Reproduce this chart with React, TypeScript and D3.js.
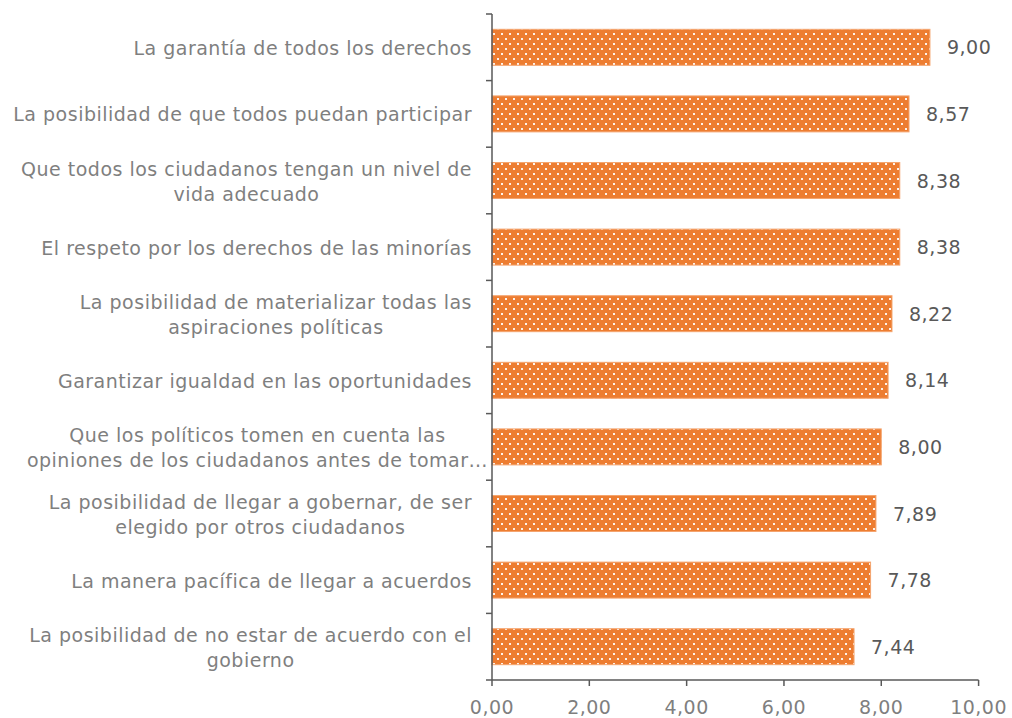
import React, { useEffect, useRef } from "react";
import * as d3 from "d3";

const categories: string[] = [
  "La garantía de todos los derechos",
  "La posibilidad de que todos puedan participar",
  "Que todos los ciudadanos tengan un nivel de\nvida adecuado",
  "El respeto por los derechos de las minorías",
  "La posibilidad de materializar todas las\naspiraciones políticas",
  "Garantizar igualdad en las oportunidades",
  "Que los políticos tomen en cuenta las\nopiniones de los ciudadanos antes de tomar…",
  "La posibilidad de llegar a gobernar, de ser\nelegido por otros ciudadanos",
  "La manera pacífica de llegar a acuerdos",
  "La posibilidad de no estar de acuerdo con el\ngobierno",
];
const values: number[] = [9.0, 8.57, 8.38, 8.38, 8.22, 8.14, 8.0, 7.89, 7.78, 7.44];
const xTicks: number[] = [0, 2, 4, 6, 8, 10];

const W = 1012;
const H = 718;
const FONT = "'DejaVu Sans', Verdana, sans-serif";
const FS = 19;
const LS = 0.5;
const fmt = (v: number) => v.toFixed(2).replace(".", ",");

export default function App() {
  const ref = useRef<SVGSVGElement>(null);

  useEffect(() => {
    const svg = d3.select(ref.current);
    svg.selectAll("*").remove();

    const x = d3.scaleLinear().domain([0, 10]).range([492, 978.6]);
    const y = d3
      .scaleBand<string>()
      .domain(categories)
      .range([14, 680])
      .paddingInner(0.46)
      .paddingOuter(0.23);
    const step = y.step();

    const defs = svg.append("defs");
    const pat = defs
      .append("pattern")
      .attr("id", "dots")
      .attr("patternUnits", "userSpaceOnUse")
      .attr("width", 8)
      .attr("height", 10)
      .attr("x", 492)
      .attr("y", 2);
    pat.append("rect").attr("width", 8).attr("height", 10).attr("fill", "#ED7D31");
    pat.append("rect").attr("x", 1).attr("y", 1).attr("width", 2).attr("height", 2).attr("fill", "#FFFFFF").attr("opacity", 0.9);
    pat.append("rect").attr("x", 5).attr("y", 6).attr("width", 2).attr("height", 2).attr("fill", "#FFFFFF").attr("opacity", 0.9);

    // bars
    svg
      .append("g")
      .selectAll("rect")
      .data(categories)
      .join("rect")
      .attr("x", x(0))
      .attr("y", (d) => y(d)!)
      .attr("width", (d, i) => x(values[i]) - x(0))
      .attr("height", y.bandwidth())
      .attr("fill", "url(#dots)")
      .attr("stroke", "#F4A46E")
      .attr("stroke-width", 1);

    // value labels
    svg
      .append("g")
      .selectAll("text")
      .data(categories)
      .join("text")
      .attr("x", (d, i) => x(values[i]) + 17)
      .attr("y", (d) => y(d)! + y.bandwidth() / 2 + 7)
      .attr("font-family", FONT)
      .attr("font-size", FS)
      .attr("letter-spacing", LS)
      .attr("fill", "#595959")
      .text((d, i) => fmt(values[i]));

    // category labels
    const gl = svg.append("g");
    categories.forEach((c) => {
      const lines = c.split("\n");
      const cy = y(c)! + y.bandwidth() / 2;
      const lh = 25;
      const t = gl
        .append("text")
        .attr("font-family", FONT)
        .attr("font-size", FS)
        .attr("letter-spacing", LS)
        .attr("fill", "#7F7F7F");
      const tspans = lines.map((ln, k) =>
        t
          .append("tspan")
          .attr("y", cy + 7.5 + (k - (lines.length - 1) / 2) * lh)
          .text(ln)
      );
      if (lines.length === 1) {
        t.attr("text-anchor", "end");
        tspans[0].attr("x", 472);
      } else {
        const widths = tspans.map((s) => (s.node() as SVGTextContentElement).getComputedTextLength());
        const maxW = Math.max(...widths);
        const right = lines.some((l) => l.endsWith("…")) ? 488 : 472;
        const cx = right - maxW / 2;
        t.attr("text-anchor", "middle");
        tspans.forEach((s) => s.attr("x", cx));
      }
    });

    // axes
    const axisColor = "#595959";
    const ga = svg.append("g").attr("stroke", axisColor).attr("stroke-width", 1.5);
    ga.append("line").attr("x1", x(0)).attr("x2", x(0)).attr("y1", 14).attr("y2", 680);
    ga.append("line").attr("x1", x(0)).attr("x2", x(10)).attr("y1", 680).attr("y2", 680);
    const yTickPos = d3.range(categories.length + 1).map((i) => 14 + i * step);
    ga.selectAll("line.yt")
      .data(yTickPos)
      .join("line")
      .attr("class", "yt")
      .attr("x1", x(0) - 6)
      .attr("x2", x(0))
      .attr("y1", (d) => d)
      .attr("y2", (d) => d);
    ga.selectAll("line.xt")
      .data(xTicks)
      .join("line")
      .attr("class", "xt")
      .attr("x1", (d) => x(d))
      .attr("x2", (d) => x(d))
      .attr("y1", 680)
      .attr("y2", 686);

    svg
      .append("g")
      .selectAll("text")
      .data(xTicks)
      .join("text")
      .attr("x", (d) => x(d))
      .attr("y", 714)
      .attr("text-anchor", "middle")
      .attr("font-family", FONT)
      .attr("font-size", FS)
      .attr("letter-spacing", LS)
      .attr("fill", "#7F7F7F")
      .text((d) => fmt(d));
  }, []);

  return (
    <svg
      ref={ref}
      width={W}
      height={H}
      style={{ position: "absolute", left: 0, top: 0, background: "#fff" }}
    />
  );
}
